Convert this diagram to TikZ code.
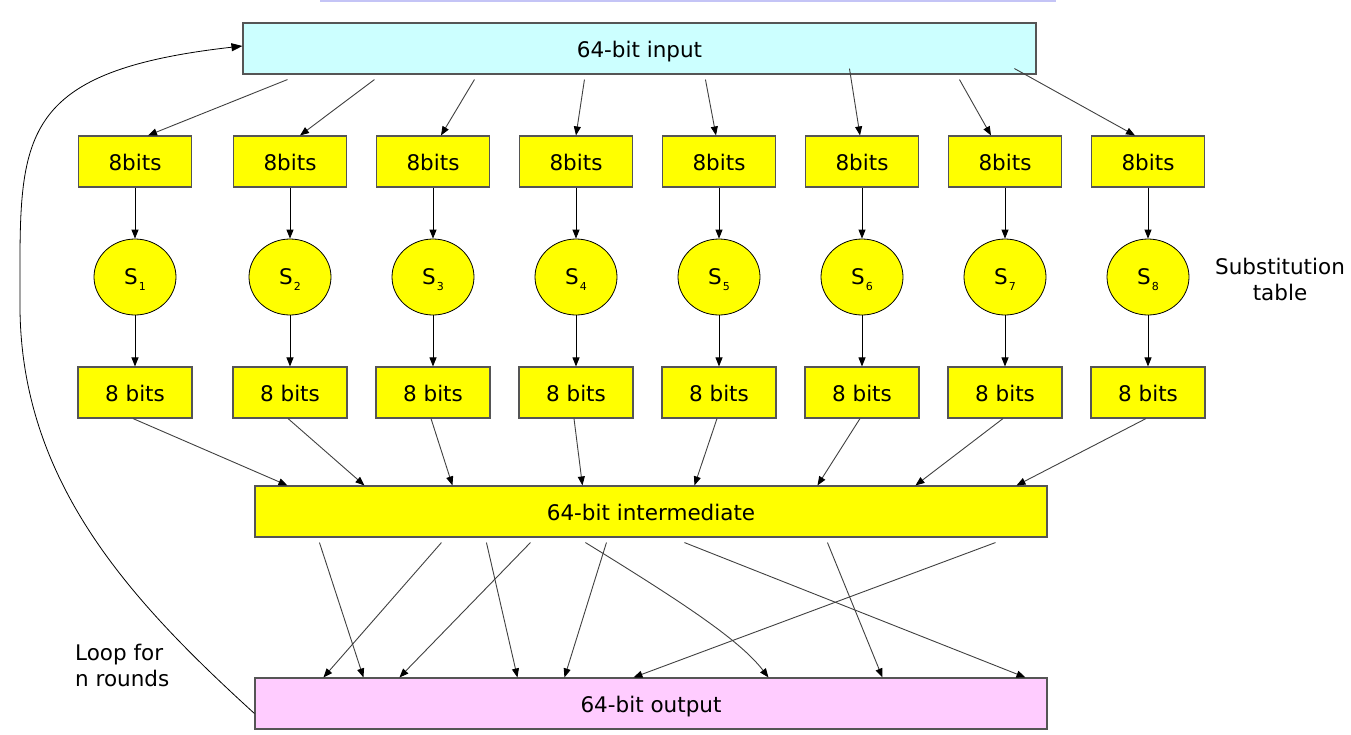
\documentclass[tikz,border=0pt]{standalone}
\usepackage{fontspec}
\setmainfont{DejaVu Sans}
\usetikzlibrary{arrows.meta,shapes.geometric}
\definecolor{inpc}{RGB}{204,255,255}
\definecolor{outc}{RGB}{255,204,255}
\definecolor{yel}{RGB}{255,255,0}
\definecolor{boxline}{RGB}{85,85,85}
\definecolor{linec}{RGB}{64,64,64}
\definecolor{barc}{RGB}{196,196,246}
\begin{document}
\begin{tikzpicture}[x=1pt,y=-1pt,
  font=\fontsize{21.5}{26}\selectfont,
  box/.style={draw=boxline, line width=1.1pt, minimum height=51pt, inner sep=0pt,
    text height=18.6pt, text depth=0pt},
  sbox/.style={ellipse, draw=black, fill=yel, line width=0.8pt,
    minimum width=82pt, minimum height=76pt, inner sep=0pt,
    text height=15.6pt, text depth=0pt},
  arr/.style={draw=linec, line width=0.9pt,
    -{Triangle[length=9pt,width=7pt,color=black]}},
  varr/.style={draw=black, line width=0.9pt,
    -{Triangle[length=9pt,width=7pt,color=black]}},
  loopline/.style={draw=black, line width=0.8pt,
    -{Triangle[length=11pt,width=8pt,color=black]}}]
\useasboundingbox (0,0) rectangle (1351,734);
\fill[barc] (320,0) rectangle (1056,2);

\node[box, fill=inpc, minimum width=793pt] (inp) at (639.5,48.5) {64-bit input};
\node[box, fill=yel, minimum width=792pt] (mid) at (651,511.5) {64-bit intermediate};
\node[box, fill=outc, minimum width=792pt] (out) at (651,703.5) {64-bit output};

\foreach \x [count=\i] in {135,290,433,576,719,862,1005,1148} {
  \node[box, fill=yel, minimum width=113pt] (t\i) at (\x,161.5) {8bits};
  \node[sbox] (s\i) at (\x,277) {S\kern1pt{\fontsize{11}{11}\selectfont\raisebox{-6pt}[0pt][0pt]{\i}}};
  \node[box, fill=yel, minimum width=114pt] (b\i) at (\x,392.5) {8 bits};
  \draw[varr] (t\i) -- (s\i);
  \draw[varr] (s\i) -- (b\i);
}

% input to 8bits
\foreach \sx/\sy/\ex [count=\i] in {45/-5/13,132/-5/10,232/-5/8,342/-5/0,463/-5/-3,607/6/-2,717/-5/-14,772/6/-13}
  \draw[arr] ([xshift=\sx pt,yshift=\sy pt]inp.south west) -- ([xshift=\ex pt]t\i.north);

% 8 bits to intermediate
\foreach \ex [count=\i] in {33,110,198,328,440,563,661,762}
  \draw[arr] ([xshift=-2pt]b\i.south) -- ([xshift=\ex pt]mid.north west);

% intermediate to output
\foreach \sx/\ex in {65/109,187/69,232/263,276/145,352/310,430/771,573/628,741/379}
  \draw[arr] ([xshift=\sx pt,yshift=-5pt]mid.south west) -- ([xshift=\ex pt]out.north west);
\draw[arr] ([xshift=331pt,yshift=-5pt]mid.south west) .. controls +(94,58) and +(-29,-38) .. ([xshift=514pt]out.north west);

% loop
\coordinate (loopmid) at (20,300);
\draw[loopline] ([yshift=-10pt]out.west) .. controls (130,600) and (18,480) .. (loopmid)
  .. controls (20,140) and (12,72) .. ([yshift=2.5pt]inp.west);

\node[align=center, inner sep=0pt] (subt) at (1280,279) {Substitution\\table};
\node[align=left, anchor=west, inner sep=0pt] (loop) at (75,665) {Loop for\\n rounds};
\end{tikzpicture}
\end{document}
